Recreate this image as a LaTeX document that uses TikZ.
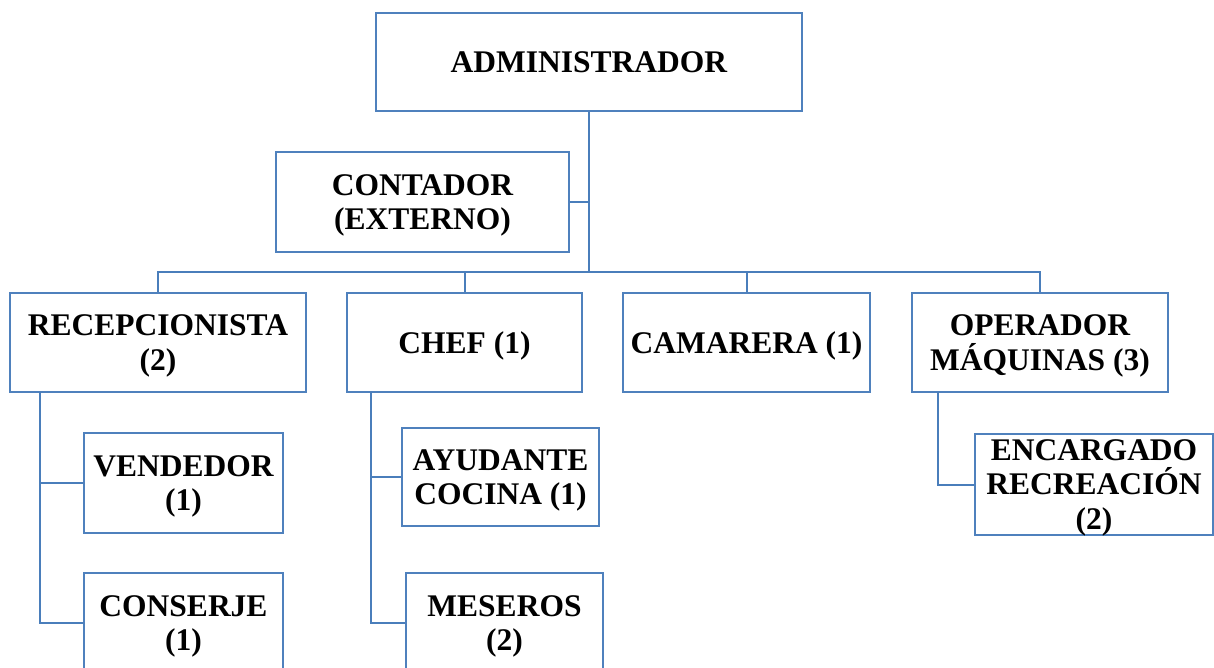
\documentclass[tikz,border=0pt]{standalone}
\usepackage{fontspec}
\setmainfont{Liberation Serif}
\definecolor{boxblue}{HTML}{4F81BD}
\definecolor{lineblue}{HTML}{4A7EBB}
\tikzset{
  orgbox/.style={draw=boxblue, line width=2.2pt, fill=white, rectangle, inner sep=0pt,
    align=center, text depth=0pt, font=\fontsize{31.5}{34.5}\selectfont\bfseries},
  link/.style={draw=lineblue, line width=2pt}
}
\begin{document}
\begin{tikzpicture}[x=1pt,y=-1pt]
\useasboundingbox (0,0) rectangle (1214,668);
\clip (0,0) rectangle (1214,668);
\coordinate (bus) at (589,272);
\coordinate (rl) at (40,392);
\coordinate (cl) at (371,392);
\coordinate (ol) at (938,392);
\node[orgbox, minimum width=426pt, minimum height=98pt] (admin) at (589,62) {ADMINISTRADOR};
\node[orgbox, minimum width=293pt, minimum height=100pt] (cont) at (422.5,202) {CONTADOR\\(EXTERNO)};
\node[orgbox, minimum width=296pt, minimum height=99pt] (recep) at (158,342.5) {RECEPCIONISTA\\(2)};
\node[orgbox, minimum width=235pt, minimum height=99pt] (chef) at (464.5,342.5) {CHEF (1)};
\node[orgbox, minimum width=247pt, minimum height=99pt] (cam) at (746.5,342.5) {CAMARERA (1)};
\node[orgbox, minimum width=256pt, minimum height=99pt] (oper) at (1040,342.5) {OPERADOR\\MÁQUINAS (3)};
\node[orgbox, minimum width=199pt, minimum height=100pt] (vend) at (183.5,483) {VENDEDOR\\(1)};
\node[orgbox, minimum width=199pt, minimum height=100pt] (cons) at (183.5,623) {CONSERJE\\(1)};
\node[orgbox, minimum width=197pt, minimum height=98pt] (ayud) at (500.5,477) {AYUDANTE\\COCINA (1)};
\node[orgbox, minimum width=197pt, minimum height=100pt] (mes) at (504.5,623) {MESEROS\\(2)};
\node[orgbox, minimum width=238pt, minimum height=101pt] (enc) at (1094,484.5) {ENCARGADO\\RECREACIÓN\\(2)};
\draw[link] (admin.south) -- (bus);
\draw[link] (cont.east) -- (cont.east -| bus);
\draw[link] (bus) -| (recep.north);
\draw[link] (bus) -| (chef.north);
\draw[link] (bus) -| (cam.north);
\draw[link] (bus) -| (oper.north);
\draw[link] (rl) |- (vend.west);
\draw[link] (rl) |- (cons.west);
\draw[link] (cl) |- (ayud.west);
\draw[link] (cl) |- (mes.west);
\draw[link] (ol) |- (enc.west);
\end{tikzpicture}
\end{document}
